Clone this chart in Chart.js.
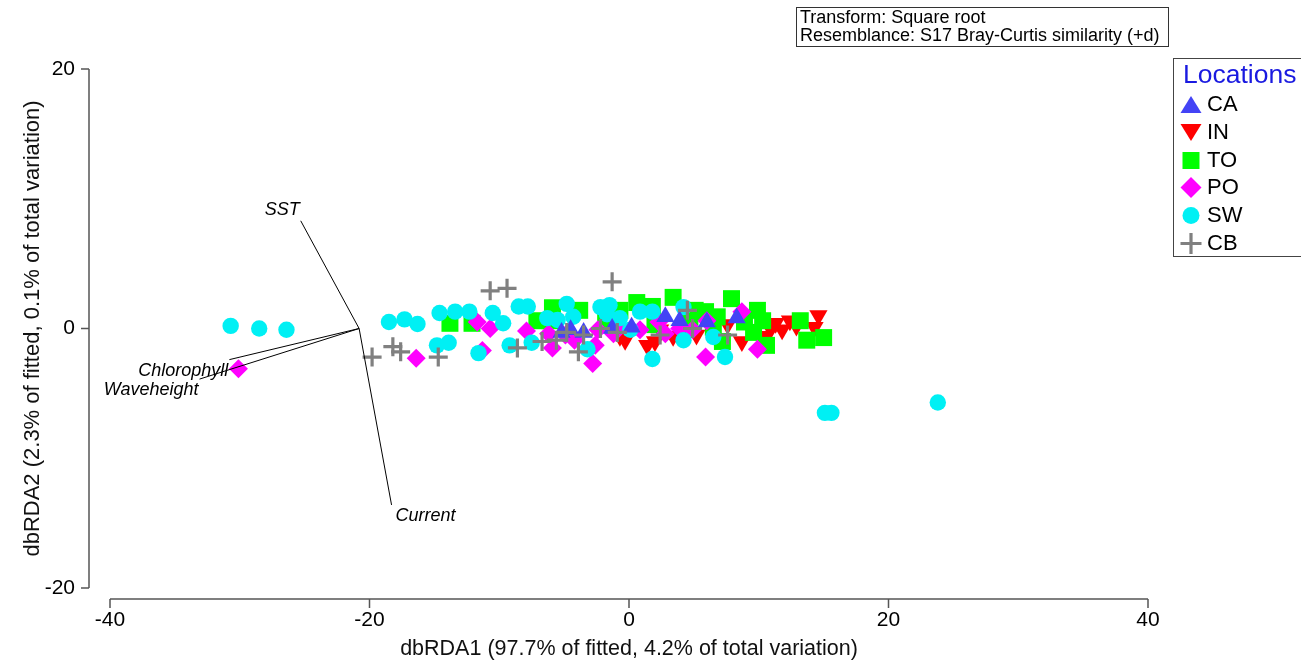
<!DOCTYPE html>
<html>
<head>
<meta charset="utf-8">
<title>dbRDA</title>
<script src="https://cdn.jsdelivr.net/npm/chart.js@4.4.1/dist/chart.umd.min.js"></script>
<style>
html,body{margin:0;padding:0;background:#fff;}
#wrap{position:relative;width:1301px;height:662px;overflow:hidden;font-family:"Liberation Sans",Arial,sans-serif;color:#000;}
#c{position:absolute;left:0;top:0;}
#info{position:absolute;left:796px;top:7px;width:373px;height:40px;border:1px solid #333;box-sizing:border-box;font-size:18px;line-height:17.5px;padding:1px 0 0 3px;white-space:nowrap;}
#legend{position:absolute;left:1173px;top:58px;width:160px;height:199px;border:1px solid #444;box-sizing:border-box;}
#legend .ttl{position:absolute;left:9px;top:0;font-size:26.5px;line-height:30px;color:#1a1ae0;white-space:nowrap;}
#legend .row{position:absolute;left:0;height:28px;line-height:28px;font-size:22px;white-space:nowrap;}
#legend .row svg{position:absolute;left:6px;top:3px;}
#legend .row span{position:absolute;left:33px;top:0;}
</style>
</head>
<body>
<div id="wrap">
  <canvas id="c" width="1301" height="662"></canvas>
  <div id="info">Transform: Square root<br>Resemblance: S17 Bray-Curtis similarity (+d)</div>
  <div id="legend"><div class="ttl">Locations</div></div>
</div>
<script>
// ---------- data ----------
const X_MIN = -40, X_MAX = 40, X_STEP = 20;
const Y_MIN = -20, Y_MAX = 20, Y_STEP = 20;
const xTitle = "dbRDA1 (97.7% of fitted, 4.2% of total variation)";
const yTitle = "dbRDA2 (2.3% of fitted, 0.1% of total variation)";
const legendTitle = "Locations";
const seriesNames = ["CA", "IN", "TO", "PO", "SW", "CB"];

const CA_points = [[-5.2,-0.3],[-4.5,-0.1],[-3.5,-0.3],[0.2,0.1],[2.8,0.9],[3.9,0.6],[8.3,0.8],[-1.3,0.0],[6.0,0.5]];
const IN_points = [[14.6,1.0],[14.3,0.1],[12.4,0.6],[11.8,-0.1],[10.9,0.0],[8.7,-1.0],[10.6,-0.6],[-0.3,-0.9],[1.4,-1.3],[2.0,-1.0],[3.4,-0.6],[5.2,-0.5],[6.4,-0.1],[7.6,0.3],[-0.7,-0.6],[2.4,-0.1],[4.3,0.3],[12.9,0.2],[11.3,0.4]];
const TO_points = [[-13.8,0.4],[-12.1,0.4],[-5.9,1.6],[-7.1,0.6],[-6.1,0.6],[-0.7,1.4],[0.6,2.0],[3.4,2.4],[5.1,1.4],[5.9,1.3],[7.9,2.3],[6.8,0.9],[9.9,1.4],[10.3,0.6],[9.6,-0.3],[10.6,-1.3],[7.2,-1.0],[13.2,0.6],[13.7,-0.9],[15.0,-0.7],[6.5,0.1],[-1.8,0.5],[8.9,0.5],[4.7,0.5],[2.0,0.3],[-3.8,1.4],[1.8,1.7]];
const PO_points = [[-30.1,-3.1],[-16.4,-2.3],[-11.7,0.5],[-10.7,0.0],[-11.3,-1.7],[-7.9,-0.2],[-5.9,-1.5],[-4.9,-0.5],[-2.8,-2.7],[-2.4,-0.1],[-1.2,-0.4],[0.85,-0.1],[2.3,0.5],[2.8,-0.4],[3.9,0.0],[4.9,-0.1],[5.9,-2.2],[8.7,1.3],[9.9,-1.6],[6.0,0.6],[-6.2,-0.4],[-4.2,-0.9],[-2.6,-1.3],[-0.7,0.2]];
const SW_points = [[-30.7,0.2],[-28.5,0.0],[-26.4,-0.1],[-18.5,0.5],[-17.3,0.7],[-16.3,0.35],[-14.6,1.2],[-13.4,1.3],[-12.3,1.3],[-14.8,-1.3],[-13.9,-1.1],[-11.6,-1.9],[-10.5,1.2],[-9.7,0.4],[-9.2,-1.3],[-8.5,1.7],[-7.8,1.7],[-7.5,-1.1],[-6.3,0.8],[-5.5,0.65],[-4.8,1.9],[-4.3,0.9],[-3.2,-1.6],[-2.2,1.65],[-1.5,1.8],[-1.7,1.1],[0.85,1.3],[1.8,1.3],[1.8,-2.35],[4.2,1.65],[4.2,-0.9],[6.5,-0.65],[7.4,-2.2],[0.1,-0.1],[15.1,-6.5],[15.6,-6.5],[23.8,-5.7],[-0.7,0.8]];
const CB_points = [[-19.8,-2.2],[-18.2,-1.4],[-17.6,-1.8],[-14.7,-2.2],[-10.7,2.9],[-9.4,3.1],[-8.6,-1.5],[-6.7,-1.0],[-4.8,-0.3],[-3.5,-0.5],[-3.9,-1.8],[-1.3,3.6],[-0.9,-0.3],[2.4,-0.5],[4.5,1.4],[4.9,0.0],[7.6,-0.5],[-5.6,-0.9],[-2.2,0.0]];

const vectorOrigin = [-20.8, 0.0];
const vectorNames = ["SST", "Current", "Chlorophyll", "Waveheight"];
const vectorEnds = [[-25.3, 8.3], [-18.3, -13.6], [-30.8, -2.4], [-33.1, -3.9]];

// ---------- styles ----------
const FONT = '"Liberation Sans", Arial, sans-serif';
const styles = {
  CA: {shape:'triangle', rot:0,   r:10.5, color:'#4343f5', order:1},
  IN: {shape:'triangle', rot:180, r:10.5, color:'#ff0000', order:5},
  TO: {shape:'rect',     rot:0,   r:12,   color:'#00ff00', order:4},
  PO: {shape:'rectRot',  rot:0,   r:9.5,  color:'#ff00ff', order:3},
  SW: {shape:'circle',   rot:0,   r:8.2,  color:'#00f0f4', order:2},
  CB: {shape:'cross',    rot:0,   r:9.5,  color:'#808080', order:0}
};
const seriesData = {CA:CA_points, IN:IN_points, TO:TO_points, PO:PO_points, SW:SW_points, CB:CB_points};

Chart.defaults.font.family = FONT;
Chart.defaults.color = '#000';

const datasets = seriesNames.map(name => {
  const s = styles[name];
  const isCross = s.shape === 'cross';
  return {
    label: name,
    data: seriesData[name].map(p => ({x:p[0], y:p[1]})),
    pointStyle: s.shape,
    pointRotation: s.rot,
    pointRadius: s.r,
    backgroundColor: s.color,
    borderColor: s.color,
    borderWidth: isCross ? 3.2 : 0,
    showLine: false,
    order: s.order
  };
});
vectorEnds.forEach((e, i) => {
  datasets.push({
    label: vectorNames[i],
    type: 'line',
    data: [{x:vectorOrigin[0], y:vectorOrigin[1]}, {x:e[0], y:e[1]}],
    borderColor: '#000',
    borderWidth: 1,
    pointRadius: 0,
    fill: false,
    order: -1
  });
});

const AXIS_COLOR = '#555';
const detachedAxes = {
  id: 'detachedAxes',
  afterDraw(chart) {
    const {ctx, scales:{x, y}} = chart;
    ctx.save();
    ctx.strokeStyle = AXIS_COLOR;
    ctx.lineWidth = 1.5;
    const ax = x.left - 21;
    const ay = y.bottom + 11;
    ctx.beginPath();
    ctx.moveTo(ax, y.getPixelForValue(Y_MAX));
    ctx.lineTo(ax, y.getPixelForValue(Y_MIN));
    y.ticks.forEach(t => {
      const py = y.getPixelForValue(t.value);
      ctx.moveTo(ax - 8, py); ctx.lineTo(ax, py);
    });
    ctx.moveTo(x.getPixelForValue(X_MIN), ay);
    ctx.lineTo(x.getPixelForValue(X_MAX), ay);
    x.ticks.forEach(t => {
      const px = x.getPixelForValue(t.value);
      ctx.moveTo(px, ay); ctx.lineTo(px, ay + 9);
    });
    ctx.stroke();
    ctx.restore();
  },
  afterDatasetsDraw(chart) {
    const {ctx, scales:{x, y}} = chart;
    ctx.save();
    ctx.font = 'italic 18px ' + FONT;
    ctx.fillStyle = '#000';
    ctx.textBaseline = 'middle';
    vectorEnds.forEach((e, i) => {
      const dx = e[0] - vectorOrigin[0], dy = e[1] - vectorOrigin[1];
      const px = x.getPixelForValue(e[0]), py = y.getPixelForValue(e[1]);
      ctx.textAlign = dx < 0 ? 'right' : 'left';
      ctx.fillText(vectorNames[i], px + (dx < 0 ? -1 : 4), py + (dy > 0 ? -11 : 11));
    });
    ctx.restore();
  }
};

new Chart(document.getElementById('c'), {
  type: 'scatter',
  data: {datasets},
  options: {
    responsive: false,
    animation: false,
    events: [],
    layout: {padding: {top: 69, right: 153, left: 0, bottom: 0}},
    plugins: {legend: {display: false}, tooltip: {enabled: false}},
    scales: {
      x: {
        type: 'linear', min: X_MIN, max: X_MAX,
        grid: {display: false, drawTicks: false},
        border: {display: false},
        ticks: {stepSize: X_STEP, padding: 20, font: {size: 21}, color: '#000', maxRotation: 0},
        title: {display: true, text: xTitle, font: {size: 21.5}, color: '#111', padding: {top: 0, bottom: 0}},
        afterFit: s => { s.height = 74; }
      },
      y: {
        type: 'linear', min: Y_MIN, max: Y_MAX,
        grid: {display: false, drawTicks: false},
        border: {display: false},
        ticks: {stepSize: Y_STEP, padding: 35, font: {size: 21}, color: '#000'},
        title: {display: true, text: yTitle, font: {size: 22}, color: '#111', padding: {top: 20, bottom: 0}},
        afterFit: s => { s.width = 110; }
      }
    }
  },
  plugins: [detachedAxes]
});

// ---------- legend ----------
function markerSVG(name) {
  const s = styles[name], c = s.color;
  let inner = '';
  if (name === 'CA') inner = `<polygon points="11,3 0.5,20 21.5,20" fill="${c}"/>`;
  else if (name === 'IN') inner = `<polygon points="0.5,3 21.5,3 11,20" fill="${c}"/>`;
  else if (s.shape === 'rect') inner = `<rect x="2.5" y="3" width="17" height="17" fill="${c}"/>`;
  else if (s.shape === 'rectRot') inner = `<polygon points="11,1 21.5,11.5 11,22 0.5,11.5" fill="${c}"/>`;
  else if (s.shape === 'circle') inner = `<circle cx="11" cy="11.5" r="8.5" fill="${c}"/>`;
  else inner = `<path d="M0.5 11.5 H21.5 M11 1 V22" stroke="${c}" stroke-width="3.2"/>`;
  return `<svg width="22" height="23" viewBox="0 0 22 23">${inner}</svg>`;
}
const legendEl = document.getElementById('legend');
legendEl.querySelector('.ttl').textContent = legendTitle;
seriesNames.forEach((name, i) => {
  const row = document.createElement('div');
  row.className = 'row';
  row.style.top = (31 + i * 27.8) + 'px';
  row.innerHTML = markerSVG(name) + `<span>${name}</span>`;
  legendEl.appendChild(row);
});
</script>
</body>
</html>
